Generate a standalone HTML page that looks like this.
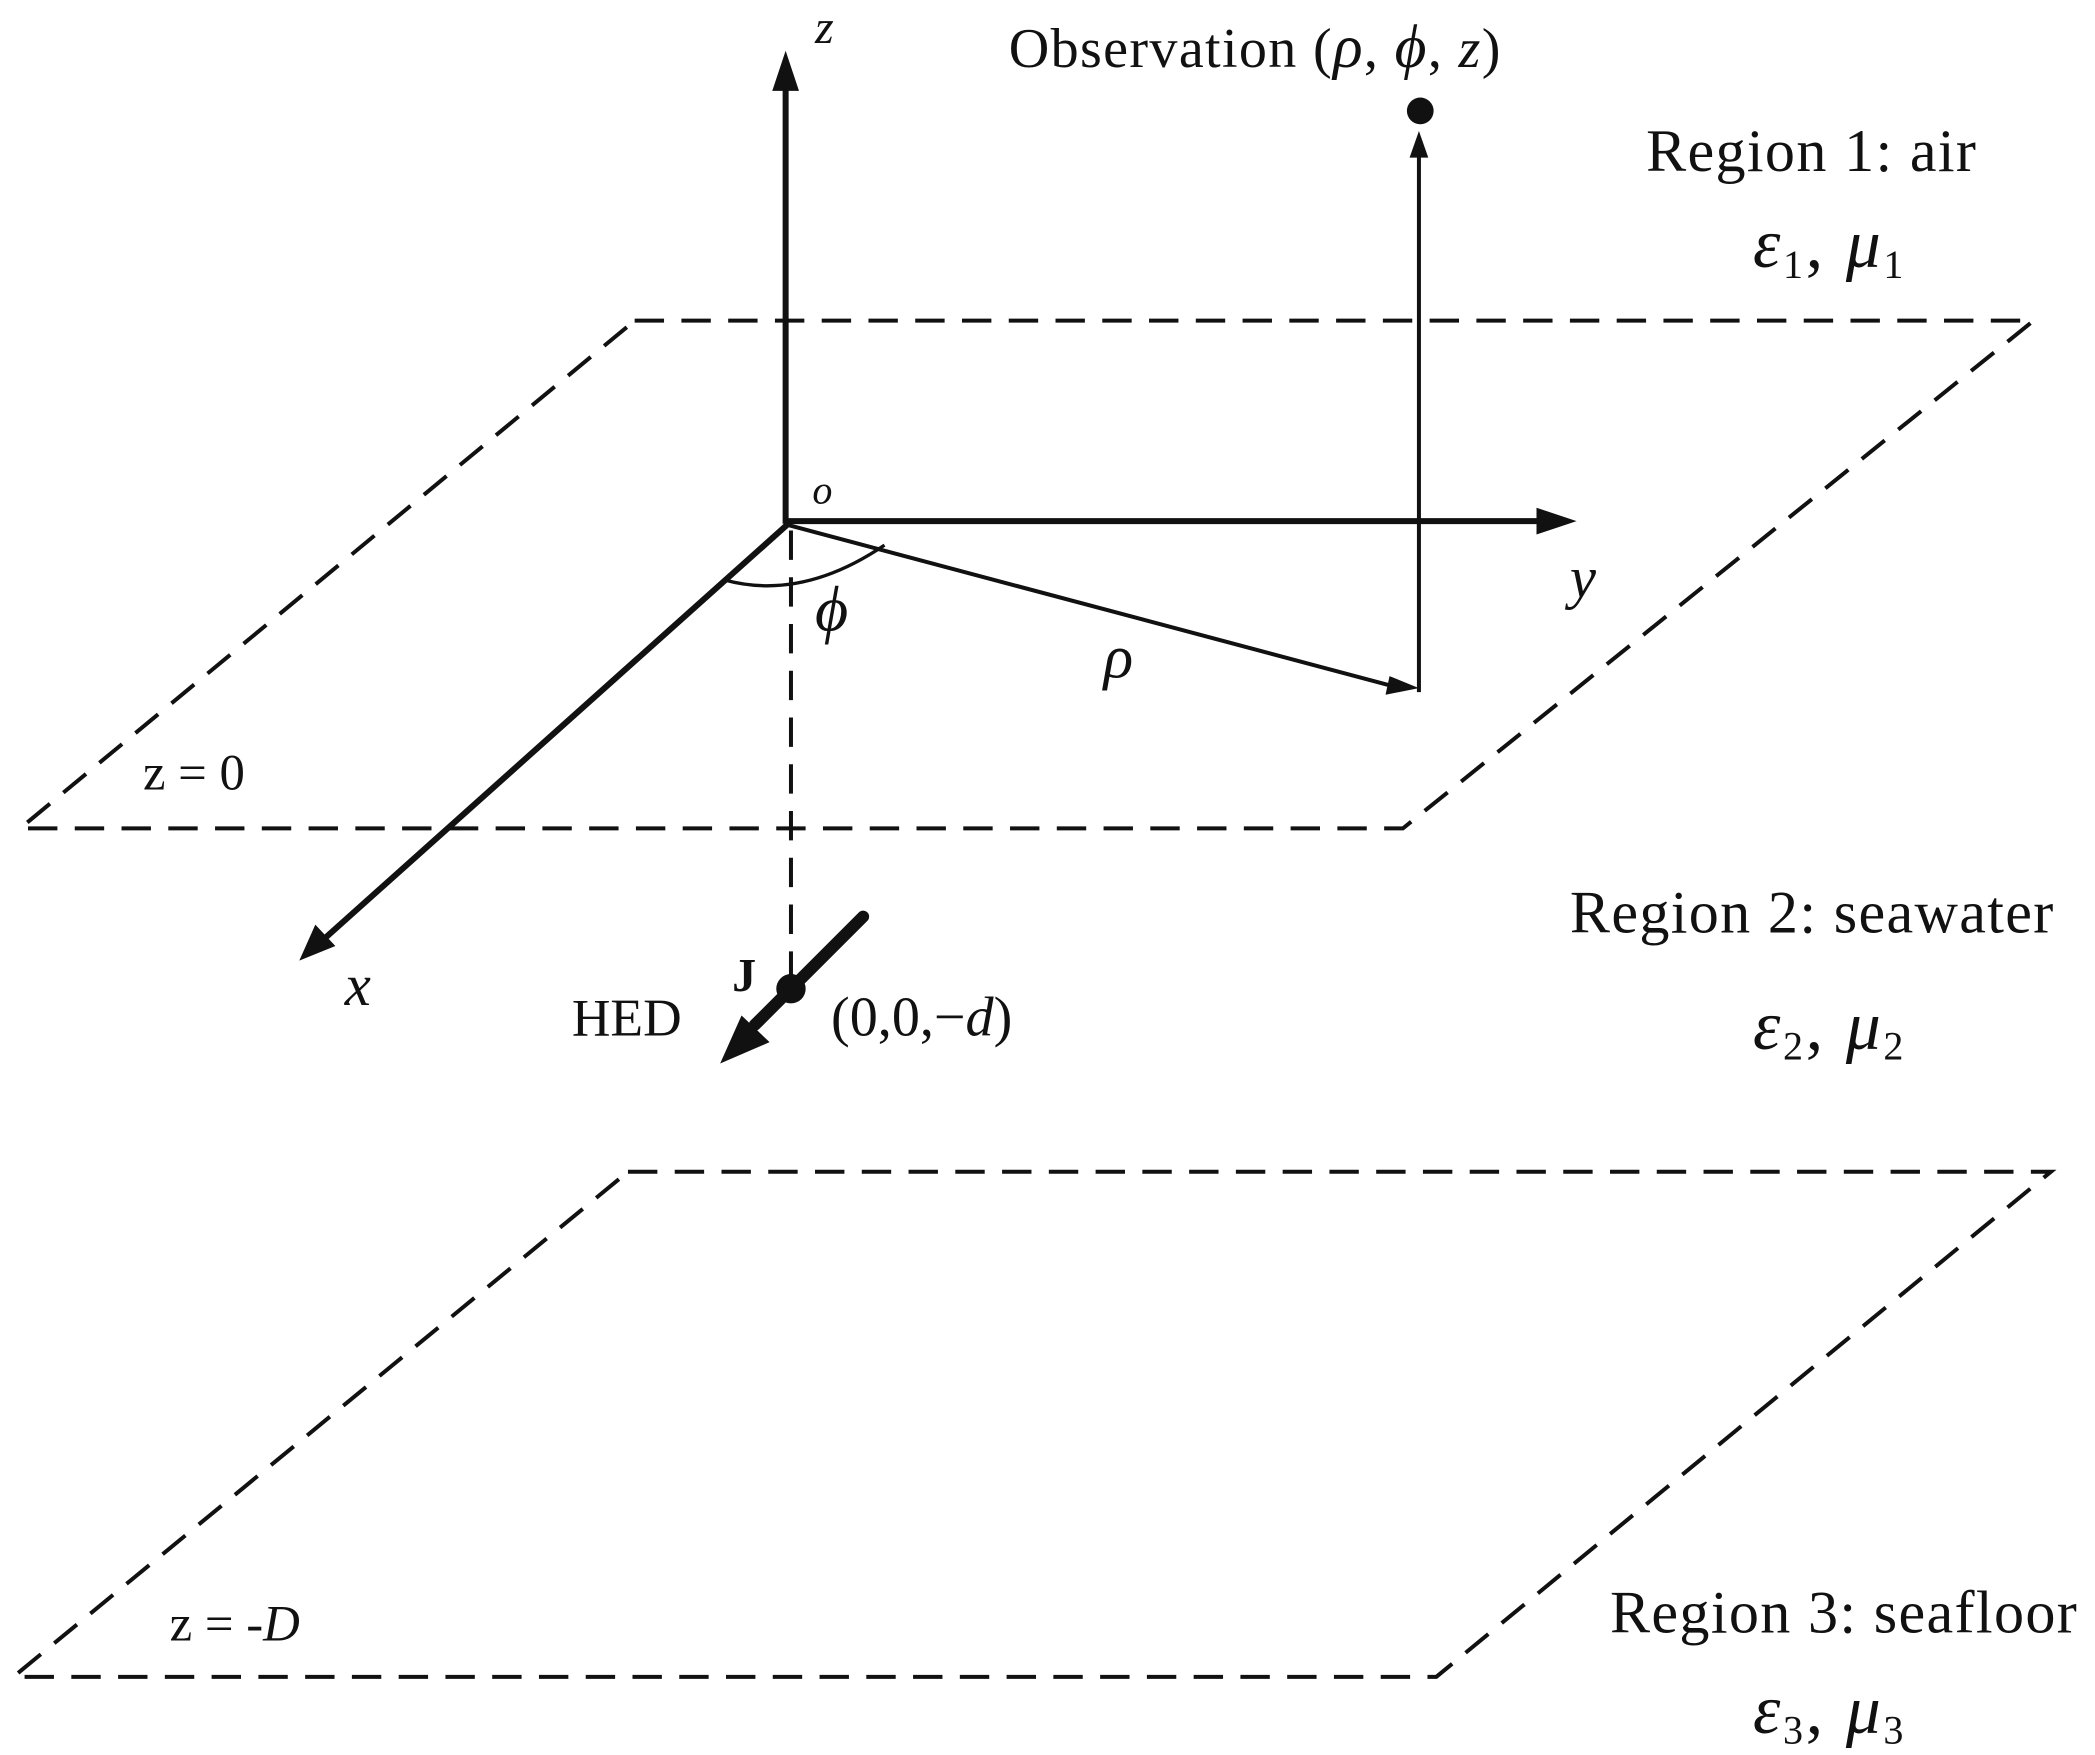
<!DOCTYPE html>
<html><head><meta charset="utf-8"><style>
html,body{margin:0;padding:0;background:#fff;}
svg{display:block;}
text{font-family:"Liberation Serif",serif;fill:#111;}
.i{font-style:italic;}
</style></head><body>
<svg width="2095" height="1755" viewBox="0 0 1568 1313.5" xmlns="http://www.w3.org/2000/svg">
<g stroke="#111" fill="none">
<polygon points="475,240 1522,240 1050,620 15,620" stroke-width="3" stroke-dasharray="22,13"/>
<polygon points="470,877 1535,877 1075,1255 10,1255" stroke-width="3" stroke-dasharray="22,13"/>
<line x1="592" y1="397" x2="592" y2="740" stroke-width="3" stroke-dasharray="22,13"/>
<line x1="588" y1="392" x2="588" y2="62" stroke-width="4.5"/>
<line x1="588" y1="390" x2="1155" y2="390" stroke-width="4.5"/>
<line x1="590" y1="392" x2="240" y2="705" stroke-width="4.5"/>
<line x1="590" y1="393" x2="1048" y2="515" stroke-width="3"/>
<line x1="1062" y1="518" x2="1062" y2="105" stroke-width="3"/>
<path d="M542,434 Q600,450 662,408" stroke-width="2.5"/>
<line x1="646" y1="686" x2="565" y2="767" stroke-width="9" stroke-linecap="round"/>
</g>
<g fill="#111">
<polygon points="588,38 578,68 598,68"/>
<polygon points="1180,390 1150,380 1150,400"/>
<polygon points="224,719 236,692 251,708"/>
<polygon points="1062,515 1040,506 1037,520"/>
<polygon points="1062,98 1055,118 1069,118"/>
<circle cx="1063" cy="83" r="10"/>
<circle cx="592" cy="740" r="11"/>
<polygon points="539,796 555,760 576,780"/>
</g>
<text x="610" y="32" font-size="36" class="i">z</text>
<text x="755" y="50" font-size="42" letter-spacing="1">Observation (<tspan class="i" font-size="46">ρ</tspan>, <tspan class="i" font-size="46">ϕ</tspan>, <tspan class="i">z</tspan>)</text>
<text x="1232" y="128" font-size="45" letter-spacing="1">Region 1: air</text>
<text x="1312" y="200" font-size="52" class="i" letter-spacing="2">ε<tspan font-size="30" dy="8" font-style="normal">1</tspan><tspan dy="-8" font-style="normal">, </tspan>μ<tspan font-size="30" dy="8" font-style="normal">1</tspan></text>
<text x="608" y="377" font-size="30" class="i">o</text>
<text x="1175" y="447" font-size="44" class="i">y</text>
<text x="610" y="472" font-size="48" class="i">ϕ</text>
<text x="826" y="507" font-size="46" class="i">ρ</text>
<text x="107" y="591" font-size="38">z = 0</text>
<text x="1175" y="698" font-size="45" letter-spacing="1">Region 2: seawater</text>
<text x="258" y="752" font-size="44" class="i">x</text>
<text x="548" y="742" font-size="36" font-weight="bold">J</text>
<text x="428" y="775" font-size="40">HED</text>
<text x="622" y="775" font-size="42">(0,0,−<tspan class="i">d</tspan>)</text>
<text x="1312" y="785" font-size="52" class="i" letter-spacing="2">ε<tspan font-size="30" dy="8" font-style="normal">2</tspan><tspan dy="-8" font-style="normal">, </tspan>μ<tspan font-size="30" dy="8" font-style="normal">2</tspan></text>
<text x="127" y="1228" font-size="38">z = -<tspan class="i">D</tspan></text>
<text x="1205" y="1222" font-size="45" letter-spacing="1">Region 3: seafloor</text>
<text x="1312" y="1297" font-size="52" class="i" letter-spacing="2">ε<tspan font-size="30" dy="8" font-style="normal">3</tspan><tspan dy="-8" font-style="normal">, </tspan>μ<tspan font-size="30" dy="8" font-style="normal">3</tspan></text>
</svg>
</body></html>
